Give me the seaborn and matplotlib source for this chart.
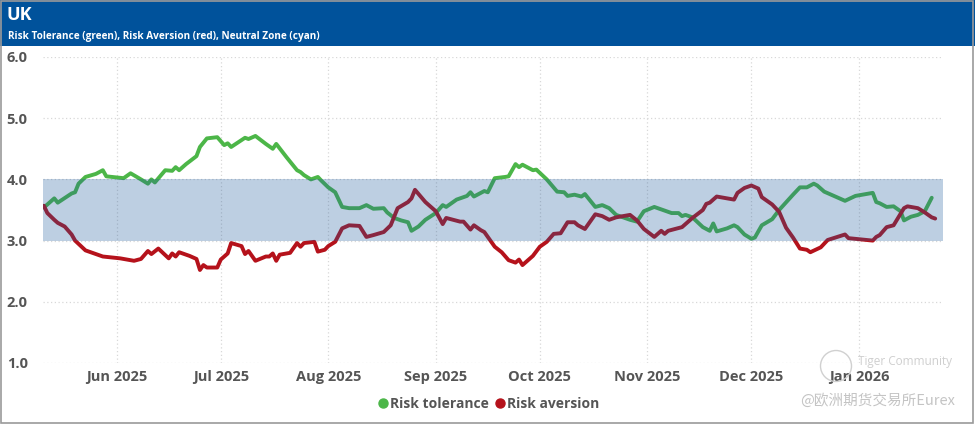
import pandas as pd
import numpy as np
import matplotlib
matplotlib.use("Agg")
import matplotlib.pyplot as plt
import matplotlib.dates as mdates
from matplotlib.lines import Line2D
from matplotlib.patches import Rectangle, Ellipse
import seaborn as sns

# Risk tolerance (green)
tol_dates = [
    "2025-05-11", "2025-05-14", "2025-05-15", "2025-05-19", "2025-05-20", "2025-05-21",
    "2025-05-23", "2025-05-26", "2025-05-28", "2025-05-29", "2025-06-03", "2025-06-05",
    "2025-06-08", "2025-06-10", "2025-06-11", "2025-06-12", "2025-06-15", "2025-06-17",
    "2025-06-18", "2025-06-19", "2025-06-21", "2025-06-24", "2025-06-25", "2025-06-27",
    "2025-06-30", "2025-07-02", "2025-07-03", "2025-07-04", "2025-07-08", "2025-07-09",
    "2025-07-11", "2025-07-14", "2025-07-16", "2025-07-17", "2025-07-20", "2025-07-23",
    "2025-07-24", "2025-07-25", "2025-07-27", "2025-07-29", "2025-07-30", "2025-08-01",
    "2025-08-03", "2025-08-05", "2025-08-07", "2025-08-10", "2025-08-12", "2025-08-14",
    "2025-08-17", "2025-08-18", "2025-08-20", "2025-08-22", "2025-08-24", "2025-08-25",
    "2025-08-27", "2025-08-29", "2025-09-01", "2025-09-03", "2025-09-04", "2025-09-07",
    "2025-09-10", "2025-09-11", "2025-09-12", "2025-09-15", "2025-09-16", "2025-09-18",
    "2025-09-21", "2025-09-22", "2025-09-24", "2025-09-25", "2025-09-26", "2025-09-29",
    "2025-09-30", "2025-10-03", "2025-10-06", "2025-10-08", "2025-10-09", "2025-10-11",
    "2025-10-13", "2025-10-14", "2025-10-17", "2025-10-19", "2025-10-21", "2025-10-23",
    "2025-10-27", "2025-10-29", "2025-10-31", "2025-11-03", "2025-11-06", "2025-11-08",
    "2025-11-10", "2025-11-11", "2025-11-12", "2025-11-14", "2025-11-17", "2025-11-19",
    "2025-11-20", "2025-11-21", "2025-11-24", "2025-11-26", "2025-11-27", "2025-11-29",
    "2025-12-01", "2025-12-02", "2025-12-04", "2025-12-07", "2025-12-09", "2025-12-13",
    "2025-12-15", "2025-12-17", "2025-12-19", "2025-12-20", "2025-12-22", "2025-12-28",
    "2025-12-31", "2026-01-05", "2026-01-06", "2026-01-07", "2026-01-09", "2026-01-11",
    "2026-01-13", "2026-01-14", "2026-01-16", "2026-01-18", "2026-01-20", "2026-01-22",
]
tol_values = [
    3.54, 3.69, 3.62, 3.77, 3.79, 3.93,
    4.04, 4.09, 4.15, 4.05, 4.02, 4.10,
    4.00, 3.93, 4.00, 3.95, 4.15, 4.14,
    4.20, 4.15, 4.25, 4.38, 4.53, 4.67,
    4.69, 4.56, 4.59, 4.53, 4.68, 4.66,
    4.71, 4.58, 4.50, 4.58, 4.36, 4.15,
    4.12, 4.07, 4.00, 4.04, 3.98, 3.87,
    3.79, 3.55, 3.53, 3.53, 3.58, 3.52,
    3.53, 3.46, 3.37, 3.33, 3.30, 3.16,
    3.23, 3.34, 3.45, 3.58, 3.55, 3.67,
    3.73, 3.79, 3.72, 3.81, 3.79, 4.02,
    4.04, 4.05, 4.25, 4.20, 4.24, 4.15,
    4.16, 4.00, 3.80, 3.79, 3.73, 3.75,
    3.72, 3.76, 3.55, 3.58, 3.53, 3.42,
    3.34, 3.31, 3.48, 3.55, 3.49, 3.45,
    3.45, 3.40, 3.42, 3.38, 3.22, 3.16,
    3.28, 3.15, 3.20, 3.25, 3.22, 3.10,
    3.03, 3.05, 3.25, 3.35, 3.50, 3.75,
    3.87, 3.87, 3.93, 3.90, 3.80, 3.65,
    3.73, 3.78, 3.63, 3.61, 3.55, 3.56,
    3.48, 3.33, 3.39, 3.42, 3.48, 3.70,
]

# Risk aversion (red)
avr_dates = [
    "2025-05-11", "2025-05-12", "2025-05-14", "2025-05-15", "2025-05-17", "2025-05-19",
    "2025-05-20", "2025-05-23", "2025-05-24", "2025-05-28", "2025-06-02", "2025-06-04",
    "2025-06-06", "2025-06-08", "2025-06-10", "2025-06-11", "2025-06-13", "2025-06-16",
    "2025-06-17", "2025-06-18", "2025-06-19", "2025-06-22", "2025-06-24", "2025-06-25",
    "2025-06-26", "2025-06-27", "2025-06-30", "2025-07-01", "2025-07-03", "2025-07-04",
    "2025-07-07", "2025-07-08", "2025-07-09", "2025-07-11", "2025-07-14", "2025-07-15",
    "2025-07-16", "2025-07-17", "2025-07-18", "2025-07-21", "2025-07-23", "2025-07-24",
    "2025-07-25", "2025-07-28", "2025-07-29", "2025-07-31", "2025-08-01", "2025-08-03",
    "2025-08-05", "2025-08-07", "2025-08-10", "2025-08-12", "2025-08-14", "2025-08-17",
    "2025-08-19", "2025-08-21", "2025-08-24", "2025-08-25", "2025-08-26", "2025-08-29",
    "2025-09-01", "2025-09-03", "2025-09-04", "2025-09-08", "2025-09-09", "2025-09-11",
    "2025-09-12", "2025-09-14", "2025-09-15", "2025-09-18", "2025-09-20", "2025-09-22",
    "2025-09-24", "2025-09-25", "2025-09-26", "2025-09-29", "2025-10-01", "2025-10-03",
    "2025-10-05", "2025-10-07", "2025-10-09", "2025-10-11", "2025-10-12", "2025-10-14",
    "2025-10-17", "2025-10-19", "2025-10-21", "2025-10-23", "2025-10-27", "2025-10-29",
    "2025-10-31", "2025-11-03", "2025-11-05", "2025-11-06", "2025-11-07", "2025-11-09",
    "2025-11-11", "2025-11-14", "2025-11-17", "2025-11-18", "2025-11-19", "2025-11-21",
    "2025-11-23", "2025-11-26", "2025-11-27", "2025-11-29", "2025-12-01", "2025-12-03",
    "2025-12-04", "2025-12-07", "2025-12-09", "2025-12-11", "2025-12-13", "2025-12-15",
    "2025-12-17", "2025-12-18", "2025-12-21", "2025-12-23", "2025-12-28", "2025-12-29",
    "2026-01-05", "2026-01-06", "2026-01-07", "2026-01-09", "2026-01-11", "2026-01-14",
    "2026-01-15", "2026-01-18", "2026-01-20", "2026-01-22", "2026-01-23",
]
avr_values = [
    3.57, 3.45, 3.34, 3.29, 3.23, 3.10,
    3.00, 2.84, 2.82, 2.74, 2.71, 2.69,
    2.67, 2.70, 2.83, 2.78, 2.87, 2.71,
    2.79, 2.74, 2.81, 2.75, 2.70, 2.52,
    2.60, 2.56, 2.56, 2.69, 2.79, 2.96,
    2.91, 2.78, 2.83, 2.67, 2.74, 2.74,
    2.79, 2.67, 2.77, 2.80, 2.96, 2.90,
    2.96, 2.98, 2.82, 2.85, 2.91, 2.98,
    3.20, 3.25, 3.24, 3.06, 3.09, 3.14,
    3.25, 3.53, 3.63, 3.69, 3.83, 3.63,
    3.48, 3.27, 3.37, 3.31, 3.31, 3.18,
    3.25, 3.17, 3.14, 2.90, 2.81, 2.68,
    2.64, 2.69, 2.60, 2.75, 2.90, 2.98,
    3.11, 3.12, 3.30, 3.30, 3.25, 3.19,
    3.43, 3.40, 3.34, 3.38, 3.42, 3.33,
    3.19, 3.06, 3.16, 3.11, 3.16, 3.19,
    3.22, 3.37, 3.50, 3.60, 3.62, 3.72,
    3.70, 3.67, 3.78, 3.86, 3.90, 3.85,
    3.71, 3.59, 3.47, 3.21, 3.05, 2.87,
    2.85, 2.81, 2.89, 3.01, 3.10, 3.04,
    3.00, 3.06, 3.09, 3.22, 3.25, 3.53,
    3.56, 3.53, 3.46, 3.38, 3.36,
]

neutral_low, neutral_high = 3.0, 4.0
y_ticks = [1.0, 2.0, 3.0, 4.0, 5.0, 6.0]
x_start, x_end = "2025-05-10 18:00", "2026-01-25 06:00"

GREEN = "#4cb648"
RED = "#b5121b"
BAND = "#1e5a9b"
HEADER = "#00529b"
TEXT = "#555555"

sns.set_theme(style="white")
plt.rcParams["font.family"] = ["Open Sans", "DejaVu Sans"]

tol_df = pd.DataFrame({"date": pd.to_datetime(tol_dates), "value": tol_values})
avr_df = pd.DataFrame({"date": pd.to_datetime(avr_dates), "value": avr_values})

fig = plt.figure(figsize=(9.75, 4.24), dpi=100)
ax = fig.add_axes([43 / 975, 1 - 363 / 424, 900 / 975, 306 / 424])

sns.lineplot(data=tol_df, x="date", y="value", color=GREEN, linewidth=2.8, ax=ax, zorder=3)
sns.lineplot(data=avr_df, x="date", y="value", color=RED, linewidth=2.8, ax=ax, zorder=3)

# neutral zone drawn over the lines, which darkens them inside the band
ax.axhspan(neutral_low, neutral_high, color=BAND, alpha=0.29, lw=0, zorder=4)

ax.set_xlim(pd.Timestamp(x_start), pd.Timestamp(x_end))
ax.set_ylim(y_ticks[0], y_ticks[-1])
ax.set_yticks(y_ticks)
ax.yaxis.set_major_formatter(plt.FuncFormatter(lambda v, p: f"{v:.1f}"))
ax.xaxis.set_major_locator(mdates.MonthLocator())
ax.xaxis.set_major_formatter(mdates.DateFormatter("%b %Y"))
ax.set_xlabel("")
ax.set_ylabel("")

ax.grid(True, color="#d8d8d8", linestyle=(0, (1, 2)), linewidth=0.9, zorder=1)
for s in ax.spines.values():
    s.set_visible(False)
ax.tick_params(axis="both", length=0, labelsize=10.5, colors=TEXT)
ax.tick_params(axis="y", pad=11)
ax.tick_params(axis="x", pad=5)
for lab in ax.get_xticklabels() + ax.get_yticklabels():
    lab.set_fontweight("bold")

# header bar
fig.patches.append(Rectangle((0, 1 - 46 / 424), 1, 46 / 424, transform=fig.transFigure,
                             facecolor=HEADER, edgecolor="none", zorder=0))
fig.patches.append(Rectangle((0.001, 0.002), 0.997, 0.996, transform=fig.transFigure,
                             facecolor="none", edgecolor="#9a9a9a", linewidth=1.2, zorder=5))
fig.text(7 / 975, 1 - 15 / 424, "UK", color="white", fontsize=13, fontweight="bold",
         va="center", ha="left")
fig.text(8 / 975, 1 - 36 / 424, "Risk Tolerance (green), Risk Aversion (red), Neutral Zone (cyan)",
         color="white", fontsize=7.2, fontweight="bold", va="center", ha="left")

# legend
handles = [
    Line2D([], [], marker="o", linestyle="none", color=GREEN, markersize=6.5),
    Line2D([], [], marker="o", linestyle="none", color=RED, markersize=6.5),
]
leg = fig.legend(handles, ["Risk tolerance", "Risk aversion"], loc="center",
                 bbox_to_anchor=(487 / 975, 1 - 404 / 424), ncol=2, frameon=False,
                 handletextpad=-0.1, columnspacing=0.2, handlelength=1.2,
                 prop={"weight": "bold", "size": 10})
for t in leg.get_texts():
    t.set_color(TEXT)

# watermark
fig.patches.append(Ellipse((836 / 100, (424 - 366) / 100), 0.31, 0.31, transform=fig.dpi_scale_trans,
                           facecolor="none", edgecolor="#d0d0d0", linewidth=1.0, zorder=6))
fig.text(858 / 975, 1 - 361 / 424, "Tiger Community", color="#cfcfcf", fontsize=8.5,
         va="center", ha="left")
fig.text(955 / 975, 1 - 401 / 424, "@欧洲期货交易所Eurex", color="#c4c4c4", fontsize=10.5,
         va="center", ha="right", family=["Noto Sans CJK SC", "DejaVu Sans"])

fig.savefig("out.png", dpi=100)
